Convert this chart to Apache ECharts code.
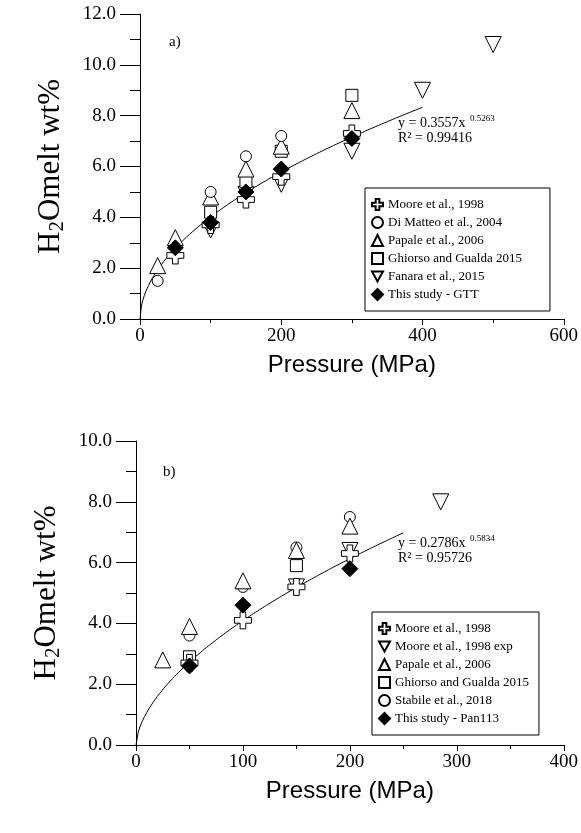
<!DOCTYPE html>
<html><head><meta charset="utf-8">
<script src="https://cdn.jsdelivr.net/npm/echarts@6/dist/echarts.min.js"></script>
<style>body{margin:0;background:#fff}#c{width:581px;height:833px}</style>
</head><body><div id="c"></div>
<script>
// panel a
var mooreA = [[50,2.5],[100,3.7],[150,4.7],[200,5.6],[300,7.3]];
var dimatteoA = [[25,1.5],[100,5.0],[150,6.4],[200,7.2]];
var papaleA = [[25,2.1],[50,3.2],[100,4.8],[150,5.9],[200,6.8],[300,8.2]];
var ghiorsoA = [[100,4.2],[150,5.4],[200,6.6],[300,8.8]];
var fanaraA = [[100,3.5],[150,4.9],[200,5.3],[300,6.6],[400,9.0],[500,10.8]];
var studyA = [[50,2.8],[100,3.8],[150,5.0],[200,5.9],[300,7.1]];
var fitA = [0.3557, 0.5263, 400];
// panel b
var mooreB = [[50,2.7],[100,4.1],[150,5.2],[200,6.3]];
var mooreExpB = [[150,5.2],[200,6.4],[285,8.0]];
var papaleB = [[25,2.8],[50,3.9],[100,5.4],[150,6.4],[200,7.2]];
var ghiorsoB = [[50,2.9],[150,5.9]];
var stabileB = [[50,3.6],[100,5.2],[150,6.5],[200,7.5]];
var studyB = [[50,2.6],[100,4.6],[200,5.8]];
var fitB = [0.2786, 0.5834, 250];

function fitLine(f){
	var pts=[];
	for(var x=0;x<=f[2];x+=2){pts.push([x,f[0]*Math.pow(x,f[1])])}
	return pts
}
var CROSS='path://M1,0H2V1H3V2H2V3H1V2H0V1H1Z';
var DOWN='path://M0,0L2,0L1,1.8Z';
var font='Liberation Serif';
function sc(name,data,sym,idx,size,filled){
	return {name:name,type:'scatter',data:data,symbol:sym,symbolSize:size,xAxisIndex:idx,yAxisIndex:idx,
		itemStyle:{color:filled?'#000':'#fff',borderColor:'#000',borderWidth:1,opacity:1},z:filled?4:3}
}
function xax(idx,max,interval){
	return {gridIndex:idx,type:'value',min:0,max:max,interval:interval,
		axisLine:{lineStyle:{color:'#000'}},axisTick:{length:6,lineStyle:{color:'#000'}},
		minorTick:{show:true,splitNumber:2,length:4,lineStyle:{color:'#000'}},
		splitLine:{show:false},
		axisLabel:{color:'#000',fontFamily:font,fontSize:19,margin:8},
		name:'Pressure (MPa)',nameLocation:'middle',nameGap:34,
		nameTextStyle:{color:'#000',fontFamily:'Liberation Sans',fontSize:24}}
}
function yax(idx,max){
	return {gridIndex:idx,type:'value',min:0,max:max,interval:2,
		axisLine:{lineStyle:{color:'#000'}},axisTick:{length:20,lineStyle:{color:'#000'}},
		minorTick:{show:true,splitNumber:2,length:10,lineStyle:{color:'#000'}},
		splitLine:{show:false},
		axisLabel:{color:'#000',fontFamily:font,fontSize:19,margin:24,formatter:function(v){return v.toFixed(1)}},
		name:'{a|H}{s|2}{a|Omelt wt%}',nameLocation:'middle',nameGap:72,
		nameTextStyle:{rich:{a:{fontFamily:font,fontSize:31,color:'#000'},s:{fontFamily:font,fontSize:21,color:'#000',padding:[14,0,0,0]}}}}
}
var chart=echarts.init(document.getElementById('c'));
chart.setOption({
	animation:false,
	grid:[{left:140,top:14,width:426,height:305},{left:136,top:441,width:430,height:304}],
	xAxis:[xax(0,600,200),xax(1,400,100)],
	yAxis:[yax(0,12),yax(1,10)],
	legend:[{
		data:['Moore et al., 1998','Di Matteo et al., 2004','Papale et al., 2006','Ghiorso and Gualda 2015','Fanara et al., 2015','This study - GTT'],
		orient:'vertical',left:365,top:188,itemGap:5,itemWidth:11,itemHeight:11,
		borderColor:'#000',borderWidth:1,padding:[10,28,10,6],textStyle:{fontFamily:font,fontSize:13,color:'#000'}
	},{
		data:['Moore et al., 1998','Moore et al., 1998 exp','Papale et al., 2006','Ghiorso and Gualda 2015','Stabile et al., 2018','This study - Pan113'],
		orient:'vertical',left:372,top:612,itemGap:5,itemWidth:11,itemHeight:11,
		borderColor:'#000',borderWidth:1,padding:[10,10,10,6],textStyle:{fontFamily:font,fontSize:13,color:'#000'}
	}],
	graphic:[
		{type:'text',left:169,top:35,style:{text:'a)',font:'15px "Liberation Serif"'}},
		{type:'text',left:163,top:465,style:{text:'b)',font:'15px "Liberation Serif"'}},
		{type:'text',left:398,top:116,style:{text:'y = 0.3557x',font:'14px "Liberation Serif"'}},
		{type:'text',left:470,top:114,style:{text:'0.5263',font:'9px "Liberation Serif"'}},
		{type:'text',left:398,top:131,style:{text:'R² = 0.99416',font:'14px "Liberation Serif"'}},
		{type:'text',left:398,top:536,style:{text:'y = 0.2786x',font:'14px "Liberation Serif"'}},
		{type:'text',left:470,top:534,style:{text:'0.5834',font:'9px "Liberation Serif"'}},
		{type:'text',left:398,top:551,style:{text:'R² = 0.95726',font:'14px "Liberation Serif"'}}
	],
	series:[
		{type:'line',data:fitLine(fitA),showSymbol:false,lineStyle:{color:'#000',width:1},xAxisIndex:0,yAxisIndex:0,z:2},
		sc('Fanara et al., 2015',fanaraA,DOWN,0,16,false),
		sc('Ghiorso and Gualda 2015',ghiorsoA,'rect',0,12,false),
		sc('Papale et al., 2006',papaleA,'triangle',0,16,false),
		sc('Di Matteo et al., 2004',dimatteoA,'circle',0,11,false),
		sc('This study - GTT',studyA,'diamond',0,16,true),
		sc('Moore et al., 1998',mooreA,CROSS,0,17,false),
		{type:'line',data:fitLine(fitB),showSymbol:false,lineStyle:{color:'#000',width:1},xAxisIndex:1,yAxisIndex:1,z:2},
		sc('Moore et al., 1998 exp',mooreExpB,DOWN,1,16,false),
		sc('Ghiorso and Gualda 2015',ghiorsoB,'rect',1,12,false),
		sc('Stabile et al., 2018',stabileB,'circle',1,11,false),
		sc('Papale et al., 2006',papaleB,'triangle',1,16,false),
		sc('This study - Pan113',studyB,'diamond',1,16,true),
		sc('Moore et al., 1998',mooreB,CROSS,1,17,false)
	]
});
</script></body></html>
